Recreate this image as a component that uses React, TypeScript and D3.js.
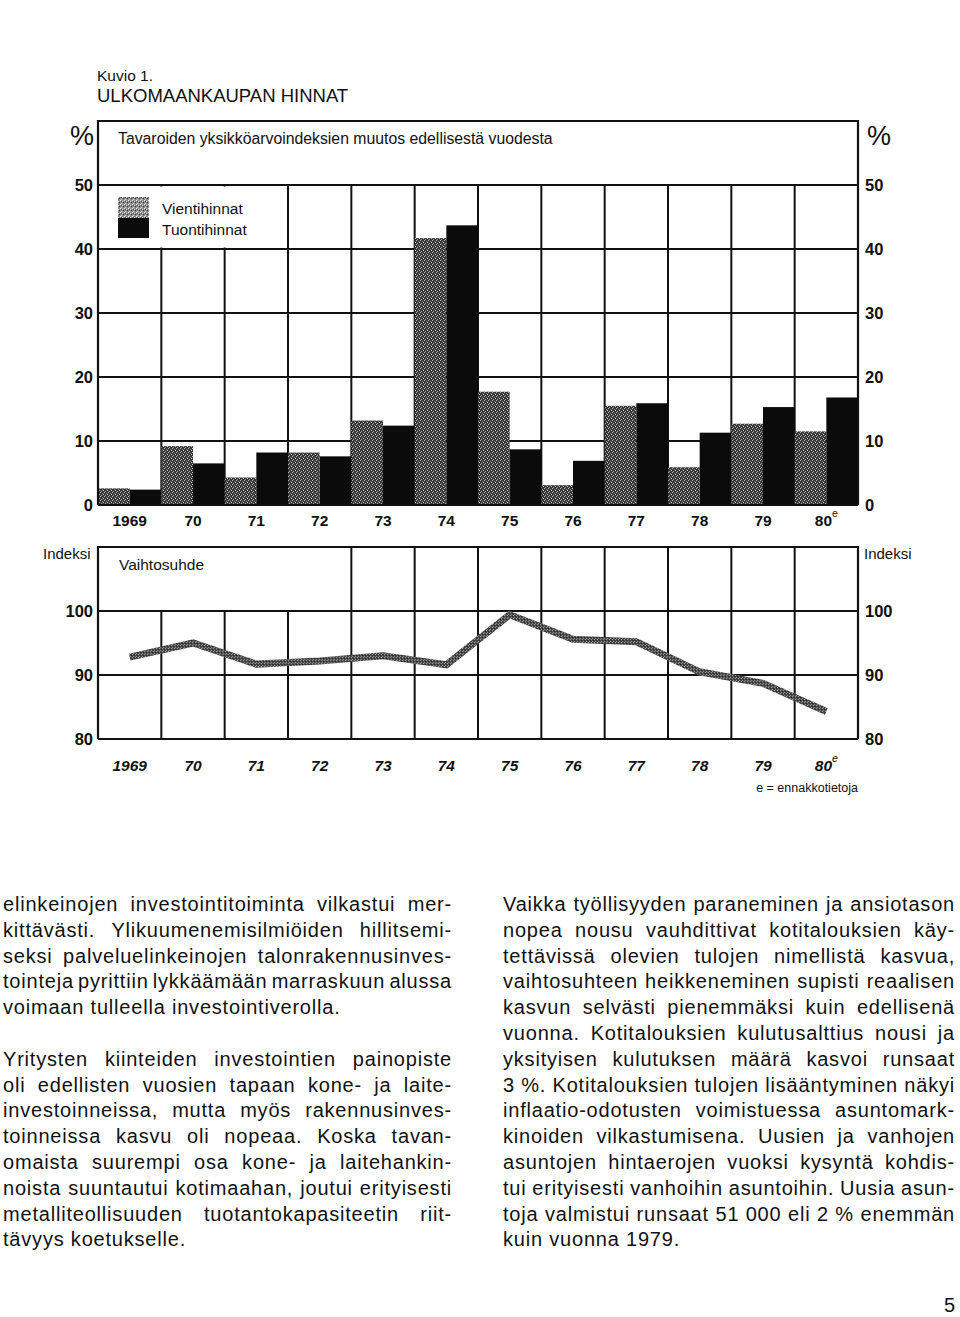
import React, { useMemo } from 'react';
import * as d3 from 'd3';

// ---------- data ----------
const years = ['1969', '70', '71', '72', '73', '74', '75', '76', '77', '78', '79', '80'];
const exportPrices = [2.6, 9.2, 4.3, 8.2, 13.2, 41.7, 17.7, 3.1, 15.5, 5.9, 12.7, 11.5];
const importPrices = [2.4, 6.5, 8.2, 7.6, 12.4, 43.7, 8.7, 6.9, 15.9, 11.3, 15.3, 16.8];
const termsOfTrade = [92.8, 95.0, 91.7, 92.2, 93.0, 91.6, 99.4, 95.6, 95.2, 90.5, 88.7, 84.3];
const barTicks = [0, 10, 20, 30, 40, 50];
const lineTicks = [80, 90, 100];
const estimatedYear = '80';

const leftColumn: string[][] = [
  [
    'elinkeinojen investointitoiminta vilkastui mer-',
    'kittävästi. Ylikuumenemisilmiöiden hillitsemi-',
    'seksi palveluelinkeinojen talonrakennusinves-',
    'tointeja pyrittiin lykkäämään marraskuun alussa',
    'voimaan tulleella investointiverolla.',
  ],
  [
    'Yritysten kiinteiden investointien painopiste',
    'oli edellisten vuosien tapaan kone- ja laite-',
    'investoinneissa, mutta myös rakennusinves-',
    'toinneissa kasvu oli nopeaa. Koska tavan-',
    'omaista suurempi osa kone- ja laitehankin-',
    'noista suuntautui kotimaahan, joutui erityisesti',
    'metalliteollisuuden tuotantokapasiteetin riit-',
    'tävyys koetukselle.',
  ],
];
const rightColumn: string[][] = [
  [
    'Vaikka työllisyyden paraneminen ja ansiotason',
    'nopea nousu vauhdittivat kotitalouksien käy-',
    'tettävissä olevien tulojen nimellistä kasvua,',
    'vaihtosuhteen heikkeneminen supisti reaalisen',
    'kasvun selvästi pienemmäksi kuin edellisenä',
    'vuonna. Kotitalouksien kulutusalttius nousi ja',
    'yksityisen kulutuksen määrä kasvoi runsaat',
    '3\u00a0%. Kotitalouksien tulojen lisääntyminen näkyi',
    'inflaatio-odotusten voimistuessa asuntomark-',
    'kinoiden vilkastumisena. Uusien ja vanhojen',
    'asuntojen hintaerojen vuoksi kysyntä kohdis-',
    'tui erityisesti vanhoihin asuntoihin. Uusia asun-',
    'toja valmistui runsaat 51\u00a0000 eli 2\u00a0% enemmän',
    'kuin vuonna 1979.',
  ],
];

// ---------- layout ----------
const FONT = '"Liberation Sans", Arial, Helvetica, sans-serif';
const X0 = 98;
const X1 = 858;
const INK = '#111';

const xBand = d3.scaleBand<string>().domain(years).range([X0, X1]).padding(0);
const yBar = d3.scaleLinear().domain([0, 60]).range([505, 121]);
const yLine = d3.scaleLinear().domain([80, 110]).range([739, 547]);

const BODY_SIZE = 20;
const LETTER_SP = 0.8;
const ROW0 = 904;
const ROW_STEP = 25.8;

function useMeasure() {
  return useMemo(() => {
    const c = document.createElement('canvas');
    const ctx = c.getContext('2d')!;
    ctx.font = `${BODY_SIZE}px ${FONT}`;
    return (s: string) => ctx.measureText(s).width + s.length * LETTER_SP;
  }, []);
}

function Paragraphs({ paras, x, width, measure }: { paras: string[][]; x: number; width: number; measure: (s: string) => number }) {
  const out: React.ReactNode[] = [];
  let row = 0;
  const common = { dominantBaseline: 'central' as const, fontSize: BODY_SIZE, fontFamily: FONT, fill: INK, letterSpacing: LETTER_SP };
  paras.forEach((lines, pi) => {
    lines.forEach((line, li) => {
      const y = ROW0 + row * ROW_STEP;
      const last = li === lines.length - 1;
      const words = line.split(' ');
      const ws = words.map(measure);
      const total = ws.reduce((a, b) => a + b, 0);
      const space = measure(' ');
      if (last || words.length < 2) {
        out.push(
          <text key={`${pi}-${li}`} x={x} y={y} {...common}>
            {line}
          </text>
        );
      } else {
        const gap = (width - total) / (words.length - 1);
        if (gap < space * 0.6) {
          out.push(
            <text key={`${pi}-${li}`} x={x} y={y} {...common} textLength={width} lengthAdjust="spacingAndGlyphs">
              {line}
            </text>
          );
        } else {
          let cx = x;
          words.forEach((w, wi) => {
            out.push(
              <text key={`${pi}-${li}-${wi}`} x={cx} y={y} {...common}>
                {w}
              </text>
            );
            cx += ws[wi] + gap;
          });
        }
      }
      row += 1;
    });
    row += 1; // blank line between paragraphs
  });
  return <g>{out}</g>;
}

function YearLabel({ year, y, italic }: { year: string; y: number; italic?: boolean }) {
  const cx = (xBand(year) ?? 0) + xBand.bandwidth() / 2;
  return (
    <text x={cx} y={y} textAnchor="middle" dominantBaseline="central" fontSize={15.5} fontWeight="bold" fontStyle={italic ? 'italic' : 'normal'} fontFamily={FONT} fill={INK}>
      {year}
      {year === estimatedYear ? (
        <tspan dy={-7} fontSize={10.5} fontWeight="normal">e</tspan>
      ) : null}
    </text>
  );
}

export default function App() {
  const measure = useMeasure();
  const bw = xBand.bandwidth();
  const boundaries = years.map((y) => xBand(y) as number).concat([X1]);

  const linePath = d3
    .line<number>()
    .x((_, i) => (xBand(years[i]) as number) + bw / 2)
    .y((d) => yLine(d))
    .curve(d3.curveLinear)(termsOfTrade) as string;

  return (
    <svg width={960} height={1317} style={{ position: 'absolute', left: 0, top: 0, background: '#fff' }} fontFamily={FONT}>
      <defs>
        <pattern id="stip" width={4} height={4} patternUnits="userSpaceOnUse">
          <rect width={4} height={4} fill="#363636" />
          <rect x={0} y={0} width={1} height={1} fill="#bdbdbd" />
          <rect x={2} y={1} width={1} height={1} fill="#8c8c8c" />
          <rect x={1} y={3} width={1} height={1} fill="#a5a5a5" />
          <rect x={3} y={2} width={1} height={1} fill="#d0d0d0" />
        </pattern>
        <pattern id="stipLight" width={4} height={4} patternUnits="userSpaceOnUse">
          <rect width={4} height={4} fill="#8a8a8a" />
          <rect x={0} y={0} width={1} height={1} fill="#fff" />
          <rect x={2} y={1} width={1} height={1} fill="#eee" />
          <rect x={1} y={3} width={1} height={1} fill="#ddd" />
          <rect x={3} y={2} width={1} height={1} fill="#333" />
          <rect x={1} y={1} width={1} height={1} fill="#444" />
        </pattern>
        <pattern id="stipLine" width={3} height={3} patternUnits="userSpaceOnUse">
          <rect width={3} height={3} fill="#4a4a4a" />
          <rect x={0} y={0} width={1} height={1} fill="#9a9a9a" />
          <rect x={2} y={1} width={1} height={1} fill="#2a2a2a" />
          <rect x={1} y={2} width={1} height={1} fill="#8a8a8a" />
        </pattern>
      </defs>

      {/* Titles */}
      <text x={97} y={75} dominantBaseline="central" fontSize={15.5} fill={INK}>Kuvio 1.</text>
      <text x={97} y={95} dominantBaseline="central" fontSize={18.5} fill={INK}>ULKOMAANKAUPAN HINNAT</text>

      {/* ---------- Bar chart ---------- */}
      <g>
        {barTicks.map((t) => (
          <line key={t} x1={X0} x2={X1} y1={yBar(t)} y2={yBar(t)} stroke={INK} strokeWidth={2} />
        ))}
        {boundaries.slice(1, -1).map((bx, i) => (
          <line key={i} x1={bx} x2={bx} y1={yBar(50)} y2={yBar(0)} stroke={INK} strokeWidth={2} />
        ))}
        {/* legend knockout */}
        <rect x={X0 + 1} y={yBar(50) + 1.5} width={186} height={yBar(40) - yBar(50) - 3} fill="#fff" />
        {years.map((yr, i) => {
          const bx = xBand(yr) as number;
          return (
            <g key={yr}>
              <rect x={bx} y={yBar(exportPrices[i])} width={bw / 2} height={yBar(0) - yBar(exportPrices[i])} fill="url(#stip)" />
              <rect x={bx + bw / 2} y={yBar(importPrices[i])} width={bw / 2} height={yBar(0) - yBar(importPrices[i])} fill="#0b0b0b" />
            </g>
          );
        })}
        <path d={`M${X0},${yBar(0)} V${yBar(60)} H${X1} V${yBar(0)}`} fill="none" stroke={INK} strokeWidth={2.2} />
        <line x1={X0} x2={X1} y1={yBar(0)} y2={yBar(0)} stroke={INK} strokeWidth={2.2} />

        <text x={82} y={136} textAnchor="middle" dominantBaseline="central" fontSize={27} fill={INK}>%</text>
        <text x={879} y={136} textAnchor="middle" dominantBaseline="central" fontSize={27} fill={INK}>%</text>
        <text x={118} y={138} dominantBaseline="central" fontSize={15.8} fill={INK}>
          Tavaroiden yksikköarvoindeksien muutos edellisestä vuodesta
        </text>

        <rect x={118} y={197} width={31} height={21} fill="url(#stipLight)" />
        <rect x={118} y={218} width={31} height={20} fill="#0b0b0b" />
        <text x={162} y={208} dominantBaseline="central" fontSize={15.5} fill={INK}>Vientihinnat</text>
        <text x={162} y={229} dominantBaseline="central" fontSize={15.5} fill={INK}>Tuontihinnat</text>

        {barTicks.map((t) => (
          <g key={t}>
            <text x={93} y={yBar(t)} textAnchor="end" dominantBaseline="central" fontSize={16.5} fontWeight="bold" fill={INK}>{t}</text>
            <text x={865} y={yBar(t)} textAnchor="start" dominantBaseline="central" fontSize={16.5} fontWeight="bold" fill={INK}>{t}</text>
          </g>
        ))}
        {years.map((yr) => (
          <YearLabel key={yr} year={yr} y={520} />
        ))}
      </g>

      {/* ---------- Line chart ---------- */}
      <g>
        {lineTicks.map((t) => (
          <line key={t} x1={X0} x2={X1} y1={yLine(t)} y2={yLine(t)} stroke={INK} strokeWidth={2} />
        ))}
        {boundaries.slice(1, -1).map((bx, i) => (
          <line key={i} x1={bx} x2={bx} y1={i < 3 ? yLine(100) : yLine(110)} y2={yLine(80)} stroke={INK} strokeWidth={2} />
        ))}
        <path d={`M${X0},${yLine(80)} V${yLine(110)} H${X1} V${yLine(80)}`} fill="none" stroke={INK} strokeWidth={2.2} />
        <path d={linePath} fill="none" stroke="url(#stipLine)" strokeWidth={7} strokeLinejoin="miter" strokeLinecap="butt" />

        <text x={43} y={553} dominantBaseline="central" fontSize={15} fill={INK}>Indeksi</text>
        <text x={864} y={553} dominantBaseline="central" fontSize={15} fill={INK}>Indeksi</text>
        <text x={119} y={564} dominantBaseline="central" fontSize={15.5} fill={INK}>Vaihtosuhde</text>

        {lineTicks.map((t) => (
          <g key={t}>
            <text x={93} y={yLine(t)} textAnchor="end" dominantBaseline="central" fontSize={16.5} fontWeight="bold" fill={INK}>{t}</text>
            <text x={865} y={yLine(t)} textAnchor="start" dominantBaseline="central" fontSize={16.5} fontWeight="bold" fill={INK}>{t}</text>
          </g>
        ))}
        {years.map((yr) => (
          <YearLabel key={yr} year={yr} y={765} italic />
        ))}
        <text x={858} y={788} textAnchor="end" dominantBaseline="central" fontSize={12.5} fill={INK}>e = ennakkotietoja</text>
      </g>

      {/* ---------- Body text ---------- */}
      <Paragraphs paras={leftColumn} x={3} width={449} measure={measure} />
      <Paragraphs paras={rightColumn} x={503} width={452} measure={measure} />

      <text x={955} y={1305} textAnchor="end" dominantBaseline="central" fontSize={20} fill={INK}>5</text>
    </svg>
  );
}
